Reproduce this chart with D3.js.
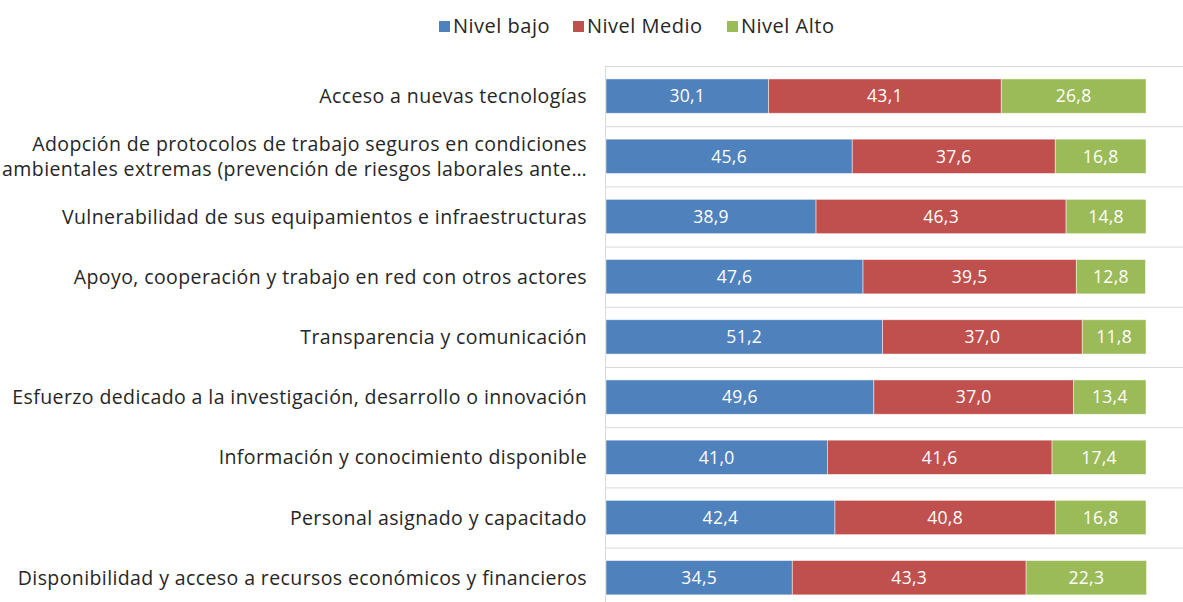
<!DOCTYPE html>
<html>
<head>
<meta charset="utf-8">
<script src="https://cdn.jsdelivr.net/npm/d3@7"></script>
<style>
  html, body { margin: 0; padding: 0; background: #fff; }
  svg { display: block; font-family: "Open Sans", "Lato", sans-serif; }
</style>
</head>
<body>
<svg id="chart" width="1183" height="602"></svg>
<script>
// Categories, top to bottom
const categories = [
  ["Acceso a nuevas tecnologías"],
  ["Adopción de protocolos de trabajo seguros en condiciones", "ambientales extremas (prevención de riesgos laborales ante…"],
  ["Vulnerabilidad de sus equipamientos e infraestructuras"],
  ["Apoyo, cooperación y trabajo en red con otros actores"],
  ["Transparencia y comunicación"],
  ["Esfuerzo dedicado a la investigación, desarrollo o innovación"],
  ["Información y conocimiento disponible"],
  ["Personal asignado y capacitado"],
  ["Disponibilidad y acceso a recursos económicos y financieros"]
];
const seriesNames = ["Nivel bajo", "Nivel Medio", "Nivel Alto"];
const nivelBajo  = [30.1, 45.6, 38.9, 47.6, 51.2, 49.6, 41.0, 42.4, 34.5];
const nivelMedio = [43.1, 37.6, 46.3, 39.5, 37.0, 37.0, 41.6, 40.8, 43.3];
const nivelAlto  = [26.8, 16.8, 14.8, 12.8, 11.8, 13.4, 17.4, 16.8, 22.3];
const colors = ["#4F81BD", "#C0504D", "#9BBB59"];

const svg = d3.select("#chart");
const W = 1183;

const rows = categories.map((c, i) => ({ key: i, lines: c, bajo: nivelBajo[i], medio: nivelMedio[i], alto: nivelAlto[i] }));
const keys = ["bajo", "medio", "alto"];
const stacked = d3.stack().keys(keys)(rows);

const x = d3.scaleLinear().domain([0, 100]).range([606, 1146]);
const y = d3.scaleBand().domain(rows.map(d => d.key)).range([66, 66 + 60.2 * rows.length]).paddingInner(0.43).paddingOuter(0.215);
const band = d3.scaleBand().domain(rows.map(d => d.key)).range([66, 66 + 60.2 * rows.length]);

// Horizontal gridlines at band boundaries
svg.append("g").selectAll("line").data(rows).join("line")
  .attr("x1", 605).attr("x2", W)
  .attr("y1", d => band(d.key) + 0.5).attr("y2", d => band(d.key) + 0.5)
  .attr("stroke", "#d9d9d9").attr("stroke-width", 1);

// Vertical category axis line
svg.append("line")
  .attr("x1", 605.5).attr("x2", 605.5).attr("y1", 66).attr("y2", 602)
  .attr("stroke", "#d9d9d9").attr("stroke-width", 1);

// Stacked bars
const layers = svg.append("g").selectAll("g").data(stacked).join("g")
  .attr("fill", (d, i) => colors[i]);

layers.selectAll("rect").data(d => d).join("rect")
  .attr("x", d => x(d[0]))
  .attr("y", d => y(d.data.key))
  .attr("width", d => x(d[1]) - x(d[0]))
  .attr("height", y.bandwidth())
  .attr("stroke", "rgba(255,255,255,0.6)")
  .attr("stroke-width", 0.8);

// Value labels inside segments
const fmt = v => d3.format(".1f")(v).replace(".", ",");
layers.selectAll("text").data(d => d).join("text")
  .attr("x", d => (x(d[0]) + x(d[1])) / 2)
  .attr("y", d => y(d.data.key) + y.bandwidth() / 2)
  .attr("dy", "0.36em")
  .attr("text-anchor", "middle")
  .attr("fill", "#fff")
  .attr("font-size", 17.5)
  .attr("letter-spacing", 0.3)
  .text(d => fmt(d[1] - d[0]));

// Category labels
const lab = svg.append("g").selectAll("text").data(rows).join("text")
  .attr("text-anchor", "end")
  .attr("fill", "#262626")
  .attr("font-size", 19.5)
  .attr("letter-spacing", 0.4)
  .attr("x", 587)
  .attr("y", d => y(d.key) + y.bandwidth() / 2);
lab.each(function(d) {
  const t = d3.select(this);
  const n = d.lines.length;
  d.lines.forEach((line, j) => {
    t.append("tspan").attr("x", 587)
      .attr("dy", j === 0 ? ((0.36 - (n - 1) * 0.63) + "em") : "1.26em")
      .text(line);
  });
});

// Legend
const legendX = [439, 573, 727];
const legend = svg.append("g").selectAll("g").data(seriesNames).join("g")
  .attr("transform", (d, i) => `translate(${legendX[i]},0)`);
legend.append("rect").attr("x", 0).attr("y", 21).attr("width", 11).attr("height", 11)
  .attr("fill", (d, i) => colors[i]);
legend.append("text").attr("x", 14).attr("y", 26).attr("dy", "0.36em")
  .attr("font-size", 20).attr("letter-spacing", 0.5).attr("fill", "#262626").text(d => d);
</script>
</body>
</html>
